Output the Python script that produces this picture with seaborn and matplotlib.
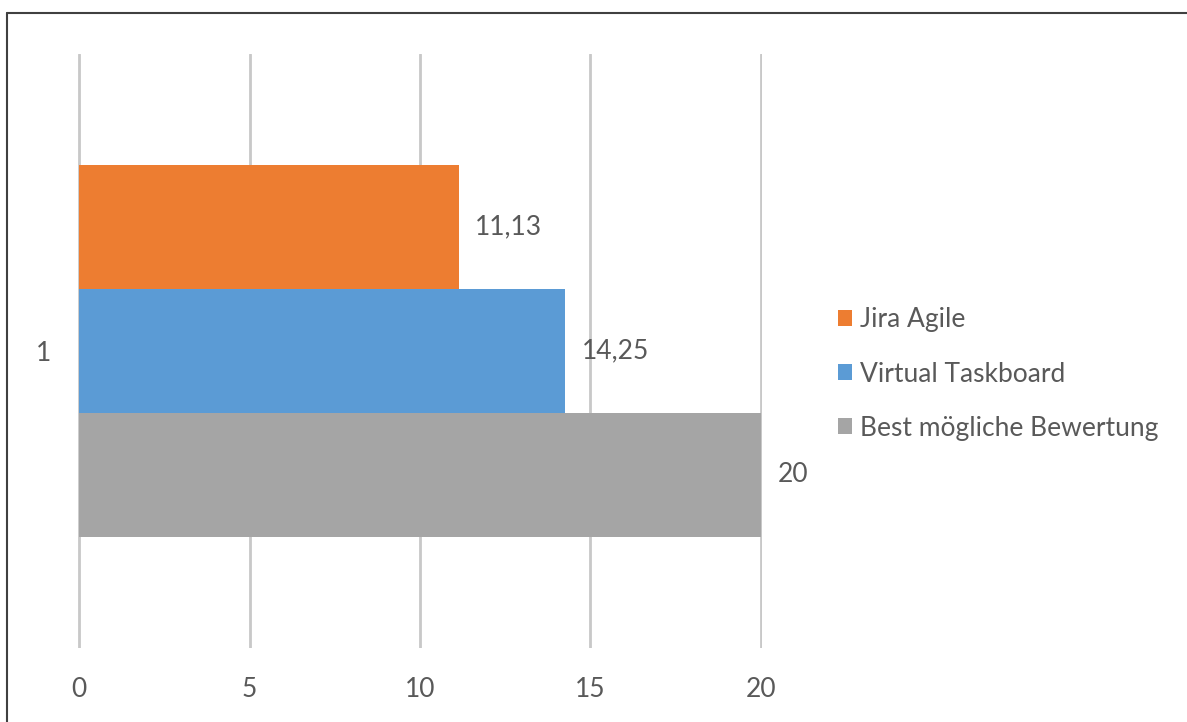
import matplotlib
matplotlib.use("Agg")
import matplotlib.pyplot as plt
import seaborn as sns
import pandas as pd
from matplotlib.lines import Line2D
from matplotlib.patches import Patch

categories = ["1"]
series = ["Jira Agile", "Virtual Taskboard", "Best mögliche Bewertung"]
values = [11.13, 14.25, 20]
labels = ["11,13", "14,25", "20"]
colors = ["#ED7D31", "#5B9BD5", "#A5A5A5"]
xticks = [0, 5, 10, 15, 20]

df = pd.DataFrame({"cat": categories * 3, "series": series, "value": values})

sns.set_theme(style="white")
plt.rcParams["font.family"] = ["Lato", "DejaVu Sans"]
txt = "#595959"
fs = 19

W, H = 1187, 722
fig = plt.figure(figsize=(W / 100, H / 100), dpi=100)
ax = fig.add_axes([78 / W, 1 - 648 / H, 684 / W, 594 / H])

sns.barplot(data=df, x="value", y="cat", hue="series", hue_order=series,
            palette=colors, orient="h", width=0.625, ax=ax, saturation=1,
            legend=False, linewidth=0, edgecolor="none")

ax.set_xlim(-0.03, 20.03)
ax.set_xticks(xticks)
ax.set_xticklabels([str(t) for t in xticks])
ax.grid(axis="x", color="#c8c8c8", linewidth=2)
ax.set_axisbelow(True)
for s in ax.spines.values():
    s.set_visible(False)
ax.tick_params(axis="x", length=0, pad=21, labelsize=fs, labelcolor=txt)
ax.tick_params(axis="y", length=0, pad=19, labelsize=fs, labelcolor=txt)
ax.set_xlabel("")
ax.set_ylabel("")

for cont, lab in zip(ax.containers, labels):
    ax.bar_label(cont, labels=[lab], padding=12, fontsize=fs, color=txt)

handles = [Patch(facecolor=c, edgecolor="none") for c in colors]
fig.legend(handles, series, loc="center left",
           bbox_to_anchor=(827 / W, 1 - 374 / H), frameon=False,
           fontsize=fs, labelcolor=txt, handlelength=0.55, handleheight=0.55,
           handletextpad=0.3, labelspacing=1.1, borderaxespad=0)

fig.add_artist(Line2D([6.5 / W, 1], [1 - 12.5 / H, 1 - 12.5 / H],
                      transform=fig.transFigure, color="#404040", linewidth=1.5))
fig.add_artist(Line2D([6.5 / W, 6.5 / W], [0, 1 - 12.5 / H],
                      transform=fig.transFigure, color="#404040", linewidth=1.5))

fig.savefig("out.png", dpi=100, facecolor="white")
